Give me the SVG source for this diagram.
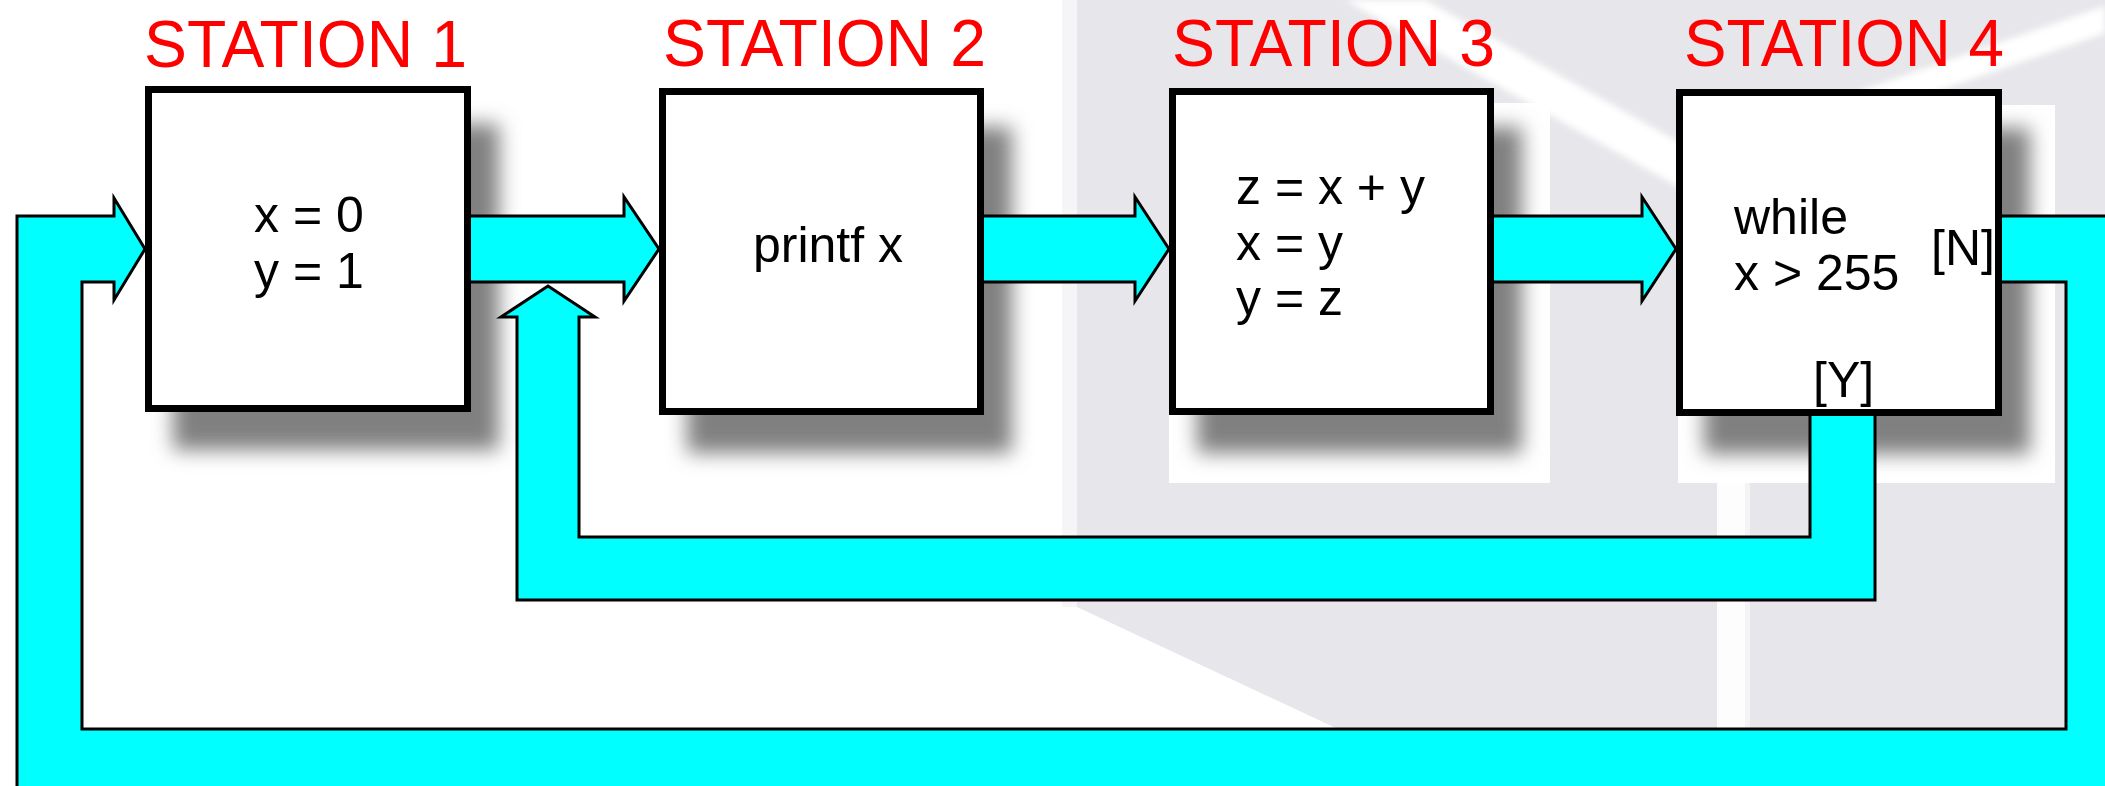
<svg xmlns="http://www.w3.org/2000/svg" width="2105" height="786" viewBox="0 0 2105 786">
<style>
.lbl{font-family:"Liberation Sans",Arial,Helvetica,sans-serif;font-size:66px;fill:#ff0000}
.txt{font-family:"Liberation Sans",Arial,Helvetica,sans-serif;font-size:50px;fill:#000000}
.box{fill:#ffffff;stroke:#000000;stroke-width:7}
.conn{fill:#00ffff;stroke:#000000;stroke-width:3;stroke-linejoin:miter;stroke-miterlimit:10}
.sh{fill:#808080;filter:url(#shadowBlur)}
.bd{fill:#ffffff}
.band{fill:#ffffff;filter:url(#soft)}
</style>
<defs>
<filter id="shadowBlur" x="-20%" y="-20%" width="140%" height="140%">
<feGaussianBlur stdDeviation="10"/>
</filter>
<filter id="soft" x="-10%" y="-10%" width="120%" height="120%">
<feGaussianBlur stdDeviation="3"/>
</filter>
</defs>

<g id="background">
<rect x="0" y="0" width="2105" height="786" fill="#ffffff"/>
<rect x="1062" y="0" width="15" height="607" fill="#f5f5f8"/>
<polygon points="1077,0 2105,0 2105,786 1460,786 1077,607" fill="#e7e7eb"/>
<polygon class="band" points="1425,0 1345,0 1700,199 1700,154"/>
<polygon class="band" points="1860,91 2105,6 2105,33 1860,118"/>
<rect x="1717" y="483" width="28" height="250" fill="#fdfdfd"/>
<rect x="1745" y="483" width="5" height="250" fill="#f4f4f7"/>
</g>

<g id="shadows">
<rect class="bd" x="145" y="100" width="381" height="394"/>
<rect class="sh" x="173" y="124" width="326" height="326"/>
<rect class="bd" x="659" y="103" width="381" height="394"/>
<rect class="sh" x="687" y="127" width="325" height="326"/>
<rect class="bd" x="1169" y="103" width="381" height="380"/>
<rect class="sh" x="1197" y="127" width="325" height="326"/>
<rect class="bd" x="1678" y="105" width="377" height="378"/>
<rect class="sh" x="1704" y="128" width="326" height="326"/>
</g>

<g id="connectors">
<polygon class="conn" points="467,216 624,216 624,197 659,249 624,301 624,282 467,282"/>
<polygon class="conn" points="980,216 1135,216 1135,197 1169,249 1135,301 1135,282 980,282"/>
<polygon class="conn" points="1490,216 1642,216 1642,197 1676,249 1642,301 1642,282 1490,282"/>
<polygon class="conn" points="1998,216 2140,216 2140,800 17,800 17,216 114,216 114,198 145,249 114,300 114,282 82,282 82,729 2066,729 2066,282 1998,282"/>
<polygon class="conn" points="1810,412 1810,537 579,537 579,317 595,317 548,286 501,317 517,317 517,600 1875,600 1875,412"/>
</g>

<g id="station1">
<text class="lbl" x="144" y="67" textLength="323" lengthAdjust="spacingAndGlyphs">STATION 1</text>
<rect class="box" x="148.5" y="89.5" width="319" height="319"/>
<text class="txt" x="254" y="232">x = 0</text>
<text class="txt" x="254" y="288">y = 1</text>
</g>

<g id="station2">
<text class="lbl" x="663" y="66" textLength="323" lengthAdjust="spacingAndGlyphs">STATION 2</text>
<rect class="box" x="662.5" y="91.5" width="318" height="320"/>
<text class="txt" x="753" y="262">printf x</text>
</g>

<g id="station3">
<text class="lbl" x="1172" y="66" textLength="323" lengthAdjust="spacingAndGlyphs">STATION 3</text>
<rect class="box" x="1172.5" y="91.5" width="318" height="320"/>
<text class="txt" x="1236" y="204">z = x + y</text>
<text class="txt" x="1236" y="260">x = y</text>
<text class="txt" x="1236" y="315">y = z</text>
</g>

<g id="station4">
<text class="lbl" x="1684" y="66" textLength="320" lengthAdjust="spacingAndGlyphs">STATION 4</text>
<rect class="box" x="1679.5" y="92.5" width="319" height="320"/>
<text class="txt" x="1734" y="234">while</text>
<text class="txt" x="1734" y="290">x &gt; 255</text>
<text class="txt" x="1931" y="265">[N]</text>
<text class="txt" x="1813" y="397">[Y]</text>
</g>
</svg>
